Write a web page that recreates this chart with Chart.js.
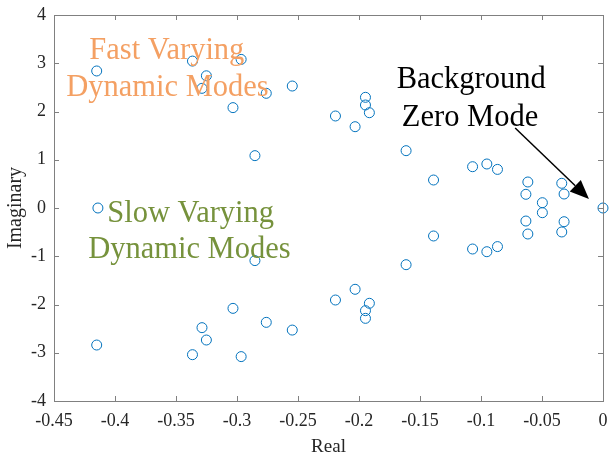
<!DOCTYPE html>
<html>
<head>
<meta charset="utf-8">
<script src="https://cdn.jsdelivr.net/npm/chart.js@4/dist/chart.umd.min.js"></script>
<style>
  html, body { margin: 0; padding: 0; background: #fff; }
  #wrap { width: 609px; height: 455px; position: relative; }
</style>
</head>
<body>
<div id="wrap"><canvas id="c"></canvas></div>
<script>
// eigenvalues (conjugate pairs)
const realParts = [
  -0.415, -0.415, -0.414, -0.3365, -0.3365, -0.3287, -0.3287, -0.3251, -0.3251,
  -0.3033, -0.3033, -0.2966, -0.2966, -0.2853, -0.2853, -0.276, -0.276,
  -0.2547, -0.2547, -0.2193, -0.2193, -0.2032, -0.2032, -0.1947, -0.1947,
  -0.1947, -0.1947, -0.1915, -0.1915, -0.1614, -0.1614, -0.1389, -0.1389,
  -0.1069, -0.1069, -0.0952, -0.0952, -0.0865, -0.0865, -0.0616, -0.0616,
  -0.0632, -0.0632, -0.0497, -0.0497, -0.0338, -0.0338, -0.0319, -0.0319, 0
];
const imagParts = [
  2.84, -2.84, 0, 3.045, -3.04, 2.48, -2.48, 2.74, -2.736,
  2.08, -2.08, 3.08, -3.08, 1.085, -1.09, 2.377, -2.37,
  2.528, -2.53, 1.907, -1.907, 1.685, -1.685, 2.294, -2.287,
  2.135, -2.128, 1.975, -1.975, 1.188, -1.175, 0.58, -0.58,
  0.856, -0.85, 0.912, -0.906, 0.80, -0.80, 0.539, -0.539,
  0.284, -0.27, 0.11, -0.097, 0.512, -0.497, 0.29, -0.284, 0
];

const xTicks = [-0.45, -0.4, -0.35, -0.3, -0.25, -0.2, -0.15, -0.1, -0.05, 0];
const yTicks = [-4, -3, -2, -1, 0, 1, 2, 3, 4];
const xTickLabels = ["-0.45", "-0.4", "-0.35", "-0.3", "-0.25", "-0.2", "-0.15", "-0.1", "-0.05", "0"];
const yTickLabels = ["-4", "-3", "-2", "-1", "0", "1", "2", "3", "4"];

// text notes, in data units
const noteTexts = ["Fast Varying", "Dynamic Modes", "Slow Varying", "Dynamic Modes", "Background", "Zero Mode"];
const noteX = [-0.3575, -0.357, -0.338, -0.339, -0.108, -0.109];
const noteY = [3.245, 2.49, -0.13, -0.88, 2.644, 1.87];
const noteColors = ["#f4a063", "#f4a063", "#76923c", "#76923c", "#000000", "#000000"];
const arrowFrom = [-0.072, 1.658];
const arrowTo = [-0.0115, 0.187];

const serif = "'Liberation Serif', 'Times New Roman', serif";

const boxPlugin = {
  id: "box",
  afterDraw(chart) {
    const ctx = chart.ctx;
    const a = chart.chartArea;
    const xs = chart.scales.x, ys = chart.scales.y;
    ctx.save();
    ctx.strokeStyle = "#808080";
    ctx.lineWidth = 1;
    ctx.strokeRect(Math.round(a.left) + 0.5, Math.round(a.top) + 0.5,
      Math.round(a.right - a.left), Math.round(a.bottom - a.top));
    // inward ticks
    ctx.beginPath();
    xTicks.forEach(v => {
      const px = Math.round(xs.getPixelForValue(v)) + 0.5;
      ctx.moveTo(px, a.bottom); ctx.lineTo(px, a.bottom - 5);
      ctx.moveTo(px, a.top); ctx.lineTo(px, a.top + 5);
    });
    yTicks.forEach(v => {
      const py = Math.round(ys.getPixelForValue(v)) + 0.5;
      ctx.moveTo(a.left, py); ctx.lineTo(a.left + 5, py);
      ctx.moveTo(a.right, py); ctx.lineTo(a.right - 5, py);
    });
    ctx.stroke();

    // notes
    ctx.font = "30.5px " + serif;
    ctx.textAlign = "center";
    ctx.textBaseline = "middle";
    noteTexts.forEach((t, i) => {
      ctx.fillStyle = noteColors[i];
      ctx.fillText(t, xs.getPixelForValue(noteX[i]), ys.getPixelForValue(noteY[i]));
    });

    // arrow
    const x0 = xs.getPixelForValue(arrowFrom[0]), y0 = ys.getPixelForValue(arrowFrom[1]);
    const x1 = xs.getPixelForValue(arrowTo[0]), y1 = ys.getPixelForValue(arrowTo[1]);
    const ang = Math.atan2(y1 - y0, x1 - x0);
    const hl = 19, hw = 8;
    const bx = x1 - hl * Math.cos(ang), by = y1 - hl * Math.sin(ang);
    ctx.strokeStyle = "#000";
    ctx.lineWidth = 1.5;
    ctx.beginPath();
    ctx.moveTo(x0, y0); ctx.lineTo(bx, by);
    ctx.stroke();
    ctx.fillStyle = "#000";
    ctx.beginPath();
    ctx.moveTo(x1, y1);
    ctx.lineTo(bx + hw * Math.sin(ang), by - hw * Math.cos(ang));
    ctx.lineTo(bx - hw * Math.sin(ang), by + hw * Math.cos(ang));
    ctx.closePath();
    ctx.fill();
    ctx.restore();
  }
};

const points = realParts.map((r, i) => ({ x: r, y: imagParts[i] }));

new Chart(document.getElementById("c"), {
  type: "scatter",
  data: {
    datasets: [{
      data: points,
      pointStyle: "circle",
      pointRadius: 5,
      pointHoverRadius: 5,
      borderWidth: 1,
      borderColor: "#0072bd",
      backgroundColor: "rgba(0,0,0,0)",
      clip: false
    }]
  },
  options: {
    responsive: true,
    maintainAspectRatio: false,
    animation: false,
    layout: { padding: { top: 15, right: 4, left: 0, bottom: 0 } },
    plugins: {
      legend: { display: false },
      tooltip: { enabled: false }
    },
    scales: {
      x: {
        type: "linear",
        min: -0.45,
        max: 0,
        afterBuildTicks: s => { s.ticks = xTicks.map(v => ({ value: v })); },
        afterFit: s => { s.height = 54; s.paddingLeft = 0; s.paddingRight = 0; },
        ticks: {
          color: "#262626",
          font: { family: serif, size: 18 },
          padding: 9,
          maxRotation: 0,
          autoSkip: false,
          callback: (v, i) => xTickLabels[i]
        },
        grid: { display: false, drawTicks: false },
        border: { display: false },
        title: {
          display: true,
          text: "Real",
          color: "#262626",
          font: { family: serif, size: 19 },
          padding: { top: 0, bottom: -3 }
        }
      },
      y: {
        type: "linear",
        min: -4,
        max: 4,
        afterBuildTicks: s => { s.ticks = yTicks.map(v => ({ value: v })); },
        afterFit: s => { s.width = 54; s.paddingTop = 0; s.paddingBottom = 0; },
        ticks: {
          color: "#262626",
          font: { family: serif, size: 18 },
          padding: 8,
          autoSkip: false,
          callback: (v, i) => yTickLabels[i]
        },
        grid: { display: false, drawTicks: false },
        border: { display: false },
        title: {
          display: true,
          text: "Imaginary",
          color: "#262626",
          font: { family: serif, size: 20 },
          padding: { bottom: 0 }
        }
      }
    }
  },
  plugins: [boxPlugin]
});
</script>
</body>
</html>
